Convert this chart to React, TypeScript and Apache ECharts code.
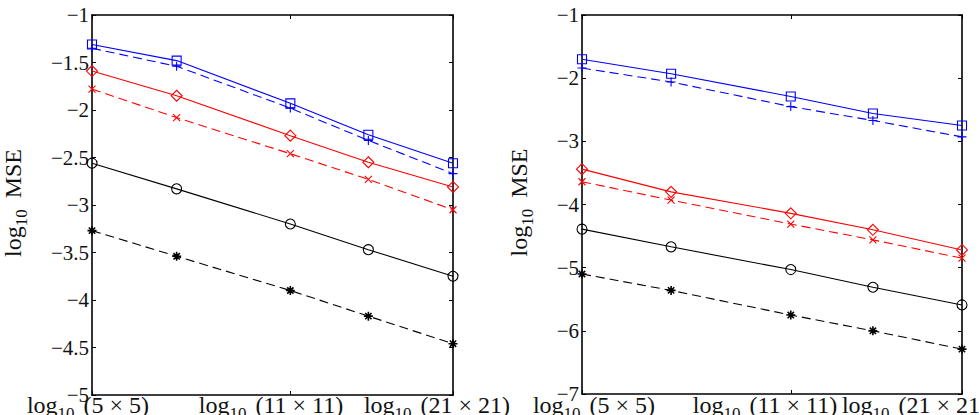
import React, { useEffect, useRef } from "react";
import * as echarts from "echarts";

// grid sizes n (n x n grids) at which the error was measured
const gridN = [5, 7, 11, 15, 21];
// grid sizes shown as tick labels
const tickN = [5, 11, 21];

// left panel: log10 MSE
const leftBlueSquare = [-1.31, -1.48, -1.93, -2.26, -2.56];
const leftBluePlus = [-1.35, -1.54, -1.98, -2.32, -2.67];
const leftRedDiamond = [-1.59, -1.85, -2.27, -2.55, -2.81];
const leftRedCross = [-1.78, -2.08, -2.46, -2.73, -3.05];
const leftBlackCircle = [-2.56, -2.83, -3.2, -3.47, -3.75];
const leftBlackStar = [-3.27, -3.54, -3.9, -4.17, -4.46];

// right panel: log10 MSE
const rightBlueSquare = [-1.7, -1.93, -2.29, -2.56, -2.75];
const rightBluePlus = [-1.84, -2.06, -2.45, -2.67, -2.93];
const rightRedDiamond = [-3.44, -3.8, -4.14, -4.4, -4.72];
const rightRedCross = [-3.64, -3.93, -4.31, -4.56, -4.85];
const rightBlackCircle = [-4.39, -4.67, -5.03, -5.31, -5.59];
const rightBlackStar = [-5.1, -5.36, -5.75, -6.0, -6.29];

const FONT = "'Liberation Serif', 'Times New Roman', serif";
const BLUE = "#0000ff";
const RED = "#ff0000";
const BLACK = "#000000";

const PLUS = "path://M5,0L5,10M0,5L10,5";
const CROSS = "path://M0,0L10,10M0,10L10,0";
const STAR = "path://M5,0L5,10M0,5L10,5M1.5,1.5L8.5,8.5M1.5,8.5L8.5,1.5";

const lx = (n: number) => Math.log10(n * n);

const fmtY = (v: number) => (v < 0 ? "\u2212" : "") + String(Math.abs(v));

export default function App() {
  const ref = useRef<HTMLDivElement>(null);

  useEffect(() => {
    if (!ref.current) return;
    const chart = echarts.init(ref.current, null, { renderer: "svg" });

    const xMin = lx(gridN[0]);
    const xMax = lx(gridN[gridN.length - 1]);
    const tickVals = tickN.map(lx);

    const mkSeries = (
      vals: number[],
      color: string,
      dashed: boolean,
      symbol: string,
      size: number,
      xi: number,
      yi: number,
      bw = 1.1
    ) => ({
      type: "line",
      xAxisIndex: xi,
      yAxisIndex: yi,
      data: vals.map((v, i) => [lx(gridN[i]), v]),
      symbol,
      symbolSize: size,
      showAllSymbol: true,
      color,
      lineStyle: { color, width: 1.1, type: dashed ? [9, 5] : "solid" },
      itemStyle: { color: "none", borderColor: color, borderWidth: bw },
      emphasis: { disabled: true },
      z: 3,
    });

    const axisLineStyle = { show: true, onZero: false, lineStyle: { color: "#000", width: 1.6 } };

    const xAxes: any[] = [];
    const yAxes: any[] = [];
    const ranges = [
      { min: -5, max: -1, interval: 0.5 },
      { min: -7, max: -1, interval: 1 },
    ];
    [0, 1].forEach((g) => {
      xAxes.push({
        type: "value",
        gridIndex: g,
        min: xMin,
        max: xMax,
        position: "bottom",
        axisLine: axisLineStyle,
        axisTick: { show: true, inside: true, length: 4, customValues: tickVals, lineStyle: { color: "#000" } },
        axisLabel: { show: false },
        splitLine: { show: false },
      });
      xAxes.push({
        type: "value",
        gridIndex: g,
        min: xMin,
        max: xMax,
        position: "top",
        axisLine: axisLineStyle,
        axisTick: { show: true, inside: true, length: 4, customValues: tickVals, lineStyle: { color: "#000" } },
        axisLabel: { show: false },
        splitLine: { show: false },
      });
      yAxes.push({
        type: "value",
        gridIndex: g,
        min: ranges[g].min,
        max: ranges[g].max,
        interval: ranges[g].interval,
        position: "left",
        axisLine: axisLineStyle,
        axisTick: { show: true, inside: true, length: 4, lineStyle: { color: "#000" } },
        axisLabel: {
          show: true,
          formatter: fmtY,
          fontFamily: FONT,
          fontSize: 21,
          color: "#111",
          margin: 3,
        },
        splitLine: { show: false },
        name: "{n|log}{s|10}{n|MSE}",
        nameLocation: "middle",
        nameRotate: 90,
        nameGap: g === 0 ? 64 : 48,
        nameTextStyle: {
          padding: [0, 0, 0, 4],
          rich: {
            n: { fontFamily: FONT, fontSize: 24, color: "#111", verticalAlign: "top", lineHeight: 27 },
            s: { fontFamily: FONT, fontSize: 17, color: "#111", verticalAlign: "top", padding: [12, 11, 0, 0], lineHeight: 27 },
          },
        },
      });
      yAxes.push({
        type: "value",
        gridIndex: g,
        min: ranges[g].min,
        max: ranges[g].max,
        interval: ranges[g].interval,
        position: "right",
        axisLine: axisLineStyle,
        axisTick: { show: true, inside: true, length: 4, lineStyle: { color: "#000" } },
        axisLabel: { show: false },
        splitLine: { show: false },
      });
    });

    const labelCenters = [
      [88, 271, 437],
      [594, 765, 915],
    ];
    const graphics: any[] = [];
    labelCenters.forEach((row) =>
      row.forEach((cx, i) => {
        const n = tickN[i];
        graphics.push({
          type: "text",
          x: cx,
          y: 393,
          style: {
            text: `{n|log}{s|10}{n| (${n} \u00d7 ${n})}`,
            align: "center",
            verticalAlign: "top",
            rich: {
              n: { fontFamily: FONT, fontSize: 24, fill: "#111", verticalAlign: "top", lineHeight: 26 },
              s: { fontFamily: FONT, fontSize: 17, fill: "#111", verticalAlign: "top", padding: [12, 3, 0, 0], lineHeight: 26 },
            },
          },
        });
      })
    );

    chart.setOption({
      animation: false,
      backgroundColor: "#ffffff",
      grid: [
        { left: 73, top: 15, width: 380, height: 380, show: false },
        { left: 582, top: 15, width: 380, height: 379, show: false },
      ],
      xAxis: xAxes,
      yAxis: yAxes,
      graphic: graphics,
      series: [
        mkSeries(leftBlueSquare, BLUE, false, "rect", 9, 0, 0),
        mkSeries(leftBluePlus, BLUE, true, PLUS, 9, 0, 0),
        mkSeries(leftRedDiamond, RED, false, "diamond", 11, 0, 0),
        mkSeries(leftRedCross, RED, true, CROSS, 7, 0, 0),
        mkSeries(leftBlackCircle, BLACK, false, "circle", 10, 0, 0),
        mkSeries(leftBlackStar, BLACK, true, STAR, 9, 0, 0, 1.6),
        mkSeries(rightBlueSquare, BLUE, false, "rect", 9, 2, 2),
        mkSeries(rightBluePlus, BLUE, true, PLUS, 9, 2, 2),
        mkSeries(rightRedDiamond, RED, false, "diamond", 11, 2, 2),
        mkSeries(rightRedCross, RED, true, CROSS, 7, 2, 2),
        mkSeries(rightBlackCircle, BLACK, false, "circle", 10, 2, 2),
        mkSeries(rightBlackStar, BLACK, true, STAR, 9, 2, 2, 1.6),
      ],
    });

    return () => chart.dispose();
  }, []);

  return (
    <div
      ref={ref}
      style={{ position: "fixed", left: 0, top: 0, width: 979, height: 415, background: "#fff" }}
    />
  );
}
